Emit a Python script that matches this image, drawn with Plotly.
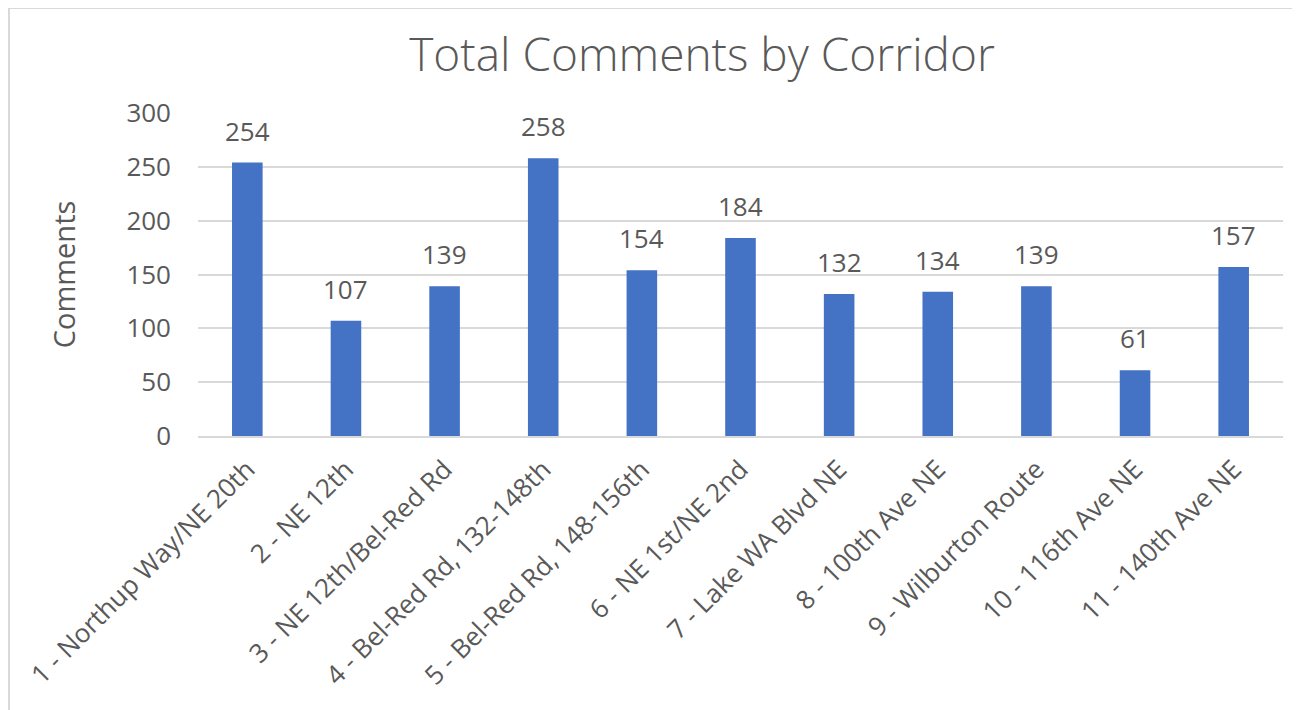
import plotly.graph_objects as go

categories = [
    "1 - Northup Way/NE 20th",
    "2 - NE 12th",
    "3 - NE 12th/Bel-Red Rd",
    "4 - Bel-Red Rd, 132-148th",
    "5 - Bel-Red Rd, 148-156th",
    "6 - NE 1st/NE 2nd",
    "7 - Lake WA Blvd NE",
    "8 - 100th Ave NE",
    "9 - Wilburton Route",
    "10 - 116th Ave NE",
    "11 - 140th Ave NE",
]
comments = [254, 107, 139, 258, 154, 184, 132, 134, 139, 61, 157]
y_ticks = [0, 50, 100, 150, 200, 250, 300]

FONT = "Open Sans"
GREY = "#595959"

# page offset of 8px (body margin) is compensated in margins
L, R, T, B = 190, 25, 105, 282
PW = 1300 - L - R
PH = 710 - T - B

fig = go.Figure(
    go.Bar(
        x=categories,
        y=comments,
        marker=dict(color="#4472C4", line=dict(width=0)),
        cliponaxis=False,
    )
)

for c, v in zip(categories, comments):
    fig.add_annotation(
        x=c, y=v, text=str(v), showarrow=False,
        yanchor="bottom", yshift=12,
        font=dict(family=FONT, size=26, color=GREY),
    )

fig.update_layout(
    width=1300,
    height=710,
    paper_bgcolor="white",
    plot_bgcolor="white",
    margin=dict(l=L, r=R, t=T, b=B, autoexpand=False),
    bargap=0.69,
    showlegend=False,
    title=dict(
        text="Total Comments by Corridor",
        x=694 / 1300,
        xanchor="center",
        y=1 - 47 / 710,
        yanchor="middle",
        font=dict(family=FONT, size=46, color=GREY, weight=300),
    ),
    font=dict(family=FONT, color=GREY),
)

fig.update_yaxes(
    range=[0, 300],
    tickvals=y_ticks,
    showgrid=True,
    gridcolor="#D9D9D9",
    gridwidth=1.5,
    zeroline=False,
    showline=False,
    tickfont=dict(family=FONT, size=26, color=GREY),
    ticks="",
    ticklabelstandoff=26,
    title=dict(text="Comments", font=dict(family=FONT, size=29, color=GREY), standoff=42),
)

fig.update_xaxes(
    tickangle=-45,
    tickfont=dict(family=FONT, size=26, color=GREY),
    showline=True,
    linecolor="#D9D9D9",
    linewidth=1.5,
    ticks="",
    ticklabelstandoff=6,
    showgrid=False,
)

# chart border (figure pixel coords converted to plot-area paper fractions)
def px_x(fx):
    return (fx - L) / PW

def px_y(fy):
    return (T + PH - fy) / PH

fig.add_shape(
    type="rect",
    xref="paper", yref="paper",
    x0=px_x(1), x1=px_x(1320),
    y0=px_y(740), y1=px_y(0),
    line=dict(color="#D9D9D9", width=2),
    fillcolor="rgba(0,0,0,0)",
    layer="below",
)

fig.write_html("out.html")
